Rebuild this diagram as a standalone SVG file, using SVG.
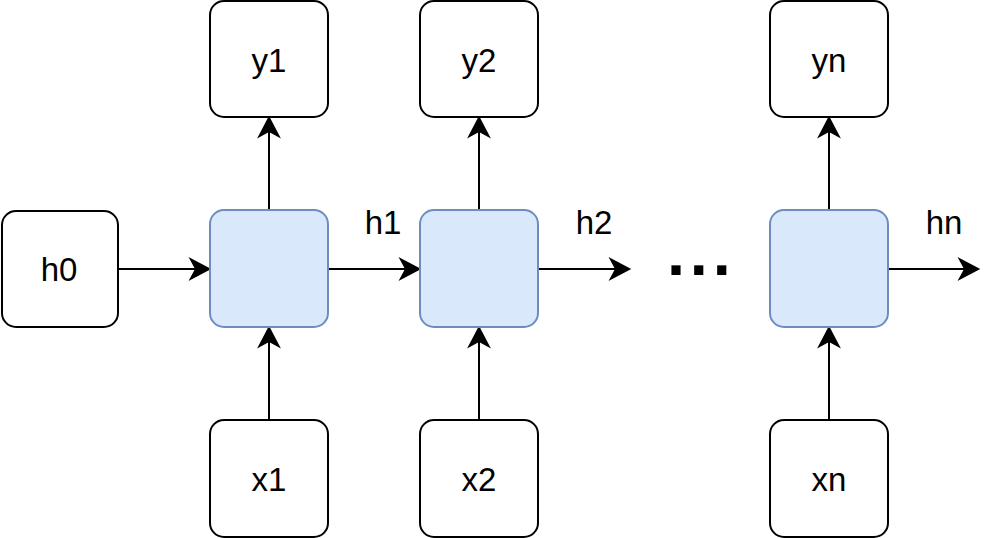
<svg xmlns="http://www.w3.org/2000/svg" width="1000" height="538" viewBox="0 0 1000 538">
  <style>
    .box { fill: #ffffff; stroke: #000000; stroke-width: 2; }
    .cell { fill: #dae8fc; stroke: #6c8ebf; stroke-width: 2; }
    .lbl { font-family: "Liberation Sans", Arial, sans-serif; font-size: 33px; fill: #000000; text-anchor: middle; }
    .edge { stroke: #000000; stroke-width: 2; fill: none; marker-end: url(#arr); }
    .dots { font-family: "Liberation Sans", Arial, sans-serif; font-size: 65px; font-weight: bold; fill: #000000; letter-spacing: 4.8px; }
  </style>
  <defs>
    <marker id="arr" markerUnits="userSpaceOnUse" markerWidth="24" markerHeight="26" viewBox="0 -12 22 24" refX="6" refY="0" orient="auto">
      <path d="M0,-11 L21,0 L0,11 L6,0 Z" fill="#000000"/>
    </marker>
  </defs>
  <rect width="1000" height="538" fill="#ffffff"/>

  <g id="connectors">
    <line class="edge" x1="118" y1="269" x2="195" y2="269"/>
    <line class="edge" x1="328" y1="269" x2="405" y2="269"/>
    <line class="edge" x1="538" y1="269" x2="615" y2="269"/>
    <line class="edge" x1="888" y1="269" x2="964" y2="269"/>
    <line class="edge" x1="269" y1="210" x2="269" y2="132"/>
    <line class="edge" x1="479" y1="210" x2="479" y2="132"/>
    <line class="edge" x1="829" y1="210" x2="829" y2="132"/>
    <line class="edge" x1="269" y1="420" x2="269" y2="342"/>
    <line class="edge" x1="479" y1="420" x2="479" y2="342"/>
    <line class="edge" x1="829" y1="420" x2="829" y2="342"/>
  </g>

  <g id="edge-labels">
    <text class="lbl" x="383" y="234">h1</text>
    <text class="lbl" x="594" y="234">h2</text>
    <text class="lbl" x="944" y="234">hn</text>
  </g>

  <g id="h0">
    <rect class="box" x="2" y="211" width="116" height="116" rx="14"/>
    <text class="lbl" x="59" y="281">h0</text>
  </g>

  <g id="cell1"><rect class="cell" x="210" y="210" width="118" height="117" rx="14"/></g>
  <g id="cell2"><rect class="cell" x="420" y="210" width="118" height="117" rx="14"/></g>
  <g id="celln"><rect class="cell" x="770" y="210" width="118" height="117" rx="14"/></g>

  <g id="y1">
    <rect class="box" x="210" y="1" width="118" height="116" rx="14"/>
    <text class="lbl" x="269" y="72">y1</text>
  </g>
  <g id="y2">
    <rect class="box" x="420" y="1" width="118" height="116" rx="14"/>
    <text class="lbl" x="479" y="72">y2</text>
  </g>
  <g id="yn">
    <rect class="box" x="770" y="1" width="118" height="116" rx="14"/>
    <text class="lbl" x="829" y="72">yn</text>
  </g>

  <g id="x1">
    <rect class="box" x="210" y="420" width="118" height="117" rx="14"/>
    <text class="lbl" x="269" y="491">x1</text>
  </g>
  <g id="x2">
    <rect class="box" x="420" y="420" width="118" height="117" rx="14"/>
    <text class="lbl" x="479" y="491">x2</text>
  </g>
  <g id="xn">
    <rect class="box" x="770" y="420" width="118" height="117" rx="14"/>
    <text class="lbl" x="829" y="491">xn</text>
  </g>

  <g id="ellipsis">
    <text class="dots" x="667" y="275">...</text>
  </g>
</svg>
